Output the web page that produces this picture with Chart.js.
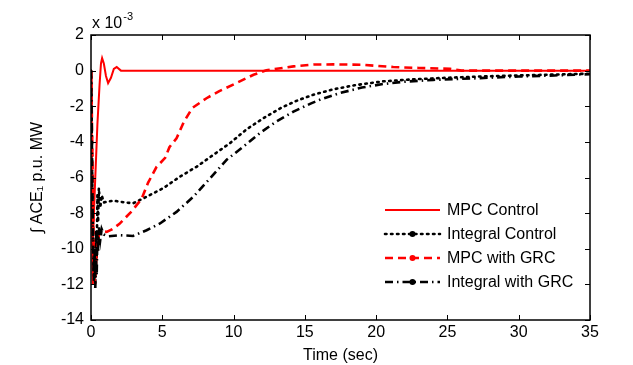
<!DOCTYPE html>
<html>
<head>
<meta charset="utf-8">
<script src="https://cdn.jsdelivr.net/npm/chart.js"></script>
<style>
  html, body { margin: 0; padding: 0; background: #fff; }
  canvas { display: block; }
</style>
</head>
<body>
<canvas id="grafico" width="633" height="365"></canvas>
<script>
// tiempos y valores (x 10^-3)
const mpcT = [0, 0.05, 0.1, 0.13, 0.16, 0.3, 0.45, 0.6, 0.7, 0.78, 0.9, 1.05, 1.2, 1.4, 1.6, 1.8, 2.1, 35];
const mpcY = [0, -6, -11, -12, -9, -6, -3, -0.8, 0.4, 0.7, 0.4, -0.3, -0.7, -0.4, 0.1, 0.2, 0, 0];

const intT = [0, 0.05, 0.1, 0.15, 0.2, 0.25, 0.3, 0.35, 0.4, 0.45, 0.5, 0.55, 0.65, 0.75, 0.9, 1.2, 1.6, 2.0, 2.95, 3.9, 5.07, 6.24, 7.4, 8.58, 9.75, 10.9, 12.1, 13.3, 14.4, 15.6, 17, 18.5, 20.5, 22.8, 25, 27.3, 30, 32.5, 35];
const intY = [0, -3, -7, -10, -11.5, -9.5, -12, -9, -10.5, -7, -8.5, -6.6, -7.7, -7.0, -7.4, -7.35, -7.3, -7.36, -7.45, -7.08, -6.6, -5.95, -5.4, -4.73, -4.07, -3.3, -2.67, -2.1, -1.7, -1.35, -1.05, -0.82, -0.6, -0.48, -0.4, -0.33, -0.27, -0.22, -0.17];

const mpcGrcT = [0, 0.05, 0.1, 0.15, 0.2, 0.28, 0.38, 0.5, 0.6, 0.75, 1.1, 1.5, 2.0, 2.85, 3.55, 4.0, 4.6, 5.2, 5.5, 6.0, 6.5, 7.1, 8.1, 9.0, 10.2, 11.4, 12.3, 14.2, 15.6, 17, 19, 21.2, 23, 25.2, 26, 35];
const mpcGrcY = [0, -2, -5, -8, -10.5, -12, -10.5, -9.5, -9.0, -9.0, -9.05, -8.9, -8.6, -7.9, -7.2, -6.3, -5.4, -4.9, -4.3, -3.8, -2.9, -2.1, -1.55, -1.15, -0.7, -0.23, 0.02, 0.24, 0.34, 0.35, 0.33, 0.2, 0.15, 0.1, 0, 0];

const intGrcT = [0, 0.05, 0.1, 0.15, 0.2, 0.25, 0.3, 0.35, 0.4, 0.45, 0.5, 0.55, 0.65, 0.75, 0.9, 1.2, 2.0, 2.95, 3.9, 4.84, 6.0, 7.18, 8.35, 9.52, 10.7, 11.85, 13.0, 14.2, 15.4, 16.1, 17.5, 19, 20.5, 22, 24, 27.3, 30, 32.5, 35];
const intGrcY = [0, -3, -7, -9.5, -11.8, -10, -12.2, -10.5, -11.5, -9, -10.2, -8.8, -9.5, -8.9, -9.2, -9.3, -9.24, -9.28, -8.96, -8.58, -7.93, -7.08, -6.05, -5.0, -4.26, -3.5, -2.86, -2.3, -1.85, -1.62, -1.25, -0.95, -0.75, -0.62, -0.52, -0.42, -0.33, -0.27, -0.2];

const nombres = ["MPC Control", "Integral Control", "MPC with GRC", "Integral with GRC"];
const xTicks = [0, 5, 10, 15, 20, 25, 30, 35];
const yTicks = [-14, -12, -10, -8, -6, -4, -2, 0, 2];

const FUENTE = "Arial, 'Liberation Sans', sans-serif";
const TAM = 16;

function puntos(t, y) {
  return t.map((v, i) => ({ x: v, y: y[i] }));
}

const series = [
  { label: nombres[0], data: puntos(mpcT, mpcY), borderColor: "#ff0000", borderWidth: 2, borderDash: [], marcador: false },
  { label: nombres[1], data: puntos(intT, intY), borderColor: "#000000", borderWidth: 2.6, borderDash: [1.5, 4.5], borderCapStyle: "round", marcador: true },
  { label: nombres[2], data: puntos(mpcGrcT, mpcGrcY), borderColor: "#ff0000", borderWidth: 2.6, borderDash: [8, 5], marcador: true },
  { label: nombres[3], data: puntos(intGrcT, intGrcY), borderColor: "#000000", borderWidth: 2.6, borderDash: [8, 4, 1.5, 4], marcador: true }
];

// caja, ticks hacia adentro, factor de escala y leyenda
const decoracion = {
  id: "decoracion",
  afterDraw(chart) {
    const ctx = chart.ctx;
    const a = chart.chartArea;
    const sx = chart.scales.x, sy = chart.scales.y;
    ctx.save();
    ctx.strokeStyle = "#000";
    ctx.lineWidth = 1.5;
    ctx.setLineDash([]);
    ctx.strokeRect(a.left, a.top, a.right - a.left, a.bottom - a.top);
    ctx.beginPath();
    xTicks.forEach(v => {
      const px = Math.round(sx.getPixelForValue(v)) + 0.5;
      ctx.moveTo(px, a.bottom); ctx.lineTo(px, a.bottom - 5);
      ctx.moveTo(px, a.top); ctx.lineTo(px, a.top + 5);
    });
    yTicks.forEach(v => {
      const py = Math.round(sy.getPixelForValue(v)) + 0.5;
      ctx.moveTo(a.left, py); ctx.lineTo(a.left + 5, py);
      ctx.moveTo(a.right, py); ctx.lineTo(a.right - 5, py);
    });
    ctx.lineWidth = 1;
    ctx.stroke();

    ctx.fillStyle = "#000";
    ctx.textBaseline = "alphabetic";
    ctx.font = TAM + "px " + FUENTE;
    ctx.fillText("x 10", a.left + 1, a.top - 7);
    const w = ctx.measureText("x 10").width;
    ctx.font = "11px " + FUENTE;
    ctx.fillText("-3", a.left + 2 + w, a.top - 15);

    // leyenda
    const x0 = 385, x1 = 440, xt = 447;
    const filas = [210, 234, 258, 282];
    series.forEach((s, i) => {
      const y = filas[i];
      ctx.strokeStyle = s.borderColor;
      ctx.lineWidth = s.borderWidth;
      ctx.lineCap = s.borderCapStyle || "butt";
      ctx.setLineDash(s.borderDash);
      ctx.beginPath();
      ctx.moveTo(x0, y); ctx.lineTo(x1, y);
      ctx.stroke();
      ctx.setLineDash([]);
      if (s.marcador) {
        ctx.fillStyle = s.borderColor;
        ctx.beginPath();
        ctx.arc((x0 + x1) / 2, y, 3, 0, Math.PI * 2);
        ctx.fill();
      }
      ctx.fillStyle = "#000";
      ctx.font = TAM + "px " + FUENTE;
      ctx.textBaseline = "middle";
      ctx.fillText(s.label, xt, y + 1);
    });
    ctx.restore();
  }
};

new Chart(document.getElementById("grafico"), {
  type: "line",
  data: {
    datasets: series.map(s => ({
      label: s.label,
      data: s.data,
      borderColor: s.borderColor,
      borderWidth: s.borderWidth,
      borderDash: s.borderDash,
      borderCapStyle: s.borderCapStyle || "butt",
      pointRadius: 0,
      tension: 0,
      fill: false
    })).reverse()
  },
  options: {
    responsive: false,
    animation: false,
    devicePixelRatio: 1,
    layout: { padding: { top: 35, right: 43, left: 0, bottom: 0 } },
    plugins: { legend: { display: false }, tooltip: { enabled: false } },
    scales: {
      x: {
        type: "linear",
        min: 0, max: 35,
        afterBuildTicks: sc => { sc.ticks = xTicks.map(v => ({ value: v })); },
        afterFit: sc => { sc.height = 45; },
        grid: { display: false, drawTicks: false },
        border: { display: false },
        ticks: { color: "#000", font: { size: TAM, family: FUENTE }, padding: 3, maxRotation: 0 },
        title: { display: true, text: "Time (sec)", color: "#000", font: { size: TAM, family: FUENTE }, padding: { top: 0, bottom: 0 } }
      },
      y: {
        min: -14, max: 2,
        afterBuildTicks: sc => { sc.ticks = yTicks.map(v => ({ value: v })); },
        afterFit: sc => { sc.width = 91; },
        grid: { display: false, drawTicks: false },
        border: { display: false },
        ticks: { color: "#000", font: { size: TAM, family: FUENTE }, padding: 7 },
        title: { display: true, text: "\u222B ACE\u2081 p.u. MW", color: "#000", font: { size: TAM, family: FUENTE }, padding: { top: 28, bottom: 0 } }
      }
    }
  },
  plugins: [decoracion]
});
</script>
</body>
</html>
